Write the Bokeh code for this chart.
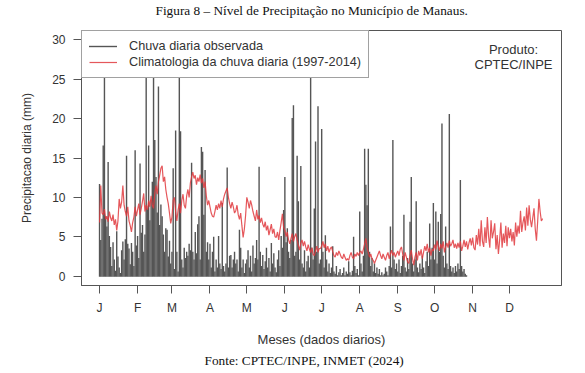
from bokeh.plotting import figure
from bokeh.models import (Range1d, Legend, LegendItem, Label, Title,
                          FixedTicker, ColumnDataSource)
from bokeh.embed import file_html
from bokeh.resources import INLINE

# ---------------- data ----------------
month_labels = ["J", "F", "M", "A", "M", "J", "J", "A", "S", "O", "N", "D"]
month_lengths = [31, 28, 31, 30, 31, 30, 31, 31, 30, 31, 30, 31]
y_ticks = [0, 5, 10, 15, 20, 25, 30]

# observed daily rainfall (mm), Jan 1 .. Oct 27
obs_jan = [11.6, 4.5, 7.2, 16.5, 28.0, 7.5, 6.2, 14.4, 5.0, 3.6, 1.2, 4.2, 2.0, 0.6, 5.6, 2.4,
           1.0, 0.3, 3.2, 4.3, 2.0, 4.6, 15.2, 4.0, 3.4, 1.4, 4.1, 3.0, 1.2, 15.9, 3.8]
obs_feb = [5.0, 2.2, 14.2, 5.4, 6.4, 3.0, 5.2, 28.0, 8.5, 16.5, 7.0, 9.6, 11.9, 29.0, 17.2,
           12.5, 8.0, 24.0, 6.4, 9.0, 7.5, 5.2, 3.0, 6.0, 5.8, 2.4, 4.4, 1.5]
obs_mar = [3.0, 13.6, 0.8, 18.4, 3.0, 0.5, 26.0, 18.3, 2.0, 1.0, 3.5, 2.2, 3.0, 2.5, 4.0, 3.2,
           14.3, 3.0, 2.0, 5.5, 2.8, 6.5, 7.5, 2.0, 16.3, 15.7, 7.7, 13.4, 3.0, 4.2, 2.0]
obs_apr = [4.0, 1.0, 3.0, 4.9, 0.5, 2.0, 1.0, 5.0, 1.5, 0.8, 9.2, 1.2, 0.5, 1.5, 13.7, 1.0,
           2.5, 2.6, 1.0, 2.0, 3.0, 1.5, 2.0, 0.5, 5.8, 3.5, 1.0, 2.0, 0.3, 1.5]
obs_may = [2.0, 3.2, 1.0, 2.5, 0.5, 3.8, 1.5, 2.2, 4.5, 2.0, 13.8, 3.0, 1.2, 2.6, 0.8, 1.8,
           3.5, 1.0, 2.2, 0.5, 4.1, 1.5, 2.8, 1.0, 0.4, 2.0, 3.2, 1.2, 5.0, 3.5, 8.3]
obs_jun = [12.5, 4.2, 6.0, 3.0, 2.2, 4.5, 20.0, 21.6, 2.5, 3.0, 15.2, 9.4, 2.0, 13.9, 1.5,
           1.0, 3.2, 0.5, 1.8, 2.5, 1.0, 27.0, 3.5, 2.0, 8.5, 17.0, 3.0, 21.5, 1.5, 2.0]
obs_jul = [18.6, 3.0, 1.0, 5.1, 2.0, 0.5, 1.5, 0.3, 1.0, 3.7, 0.5, 0.2, 1.2, 0.0, 0.4, 0.8,
           0.0, 0.3, 1.0, 0.0, 0.5, 0.2, 1.8, 0.4, 0.0, 0.6, 4.9, 1.2, 0.3, 0.8, 0.0]
obs_aug = [8.1, 1.5, 0.5, 2.5, 16.1, 11.5, 8.9, 16.1, 3.0, 1.2, 2.2, 0.5, 1.5, 0.3, 1.0, 0.2,
           0.8, 0.0, 0.4, 0.0, 0.2, 1.0, 0.5, 0.0, 1.2, 6.2, 1.0, 17.2, 2.0, 0.8, 1.5]
obs_sep = [0.5, 2.0, 0.3, 1.2, 2.5, 7.7, 1.0, 0.5, 2.2, 0.8, 6.8, 12.5, 1.5, 0.5, 2.0, 9.4,
           1.0, 0.4, 1.5, 0.8, 2.5, 1.0, 0.3, 1.8, 3.0, 1.2, 6.6, 2.0, 3.5, 9.2]
obs_oct = [2.0, 8.1, 1.5, 6.8, 3.0, 7.8, 19.3, 2.5, 1.0, 6.2, 1.5, 0.8, 20.5, 1.2, 0.5, 1.0,
           0.3, 1.2, 0.5, 1.5, 0.8, 12.1, 1.2, 0.5, 0.8, 0.2, 0.0]

# climatology of daily rainfall 1997-2014 (mm)
clim_jan = [6.8, 11.5, 8.0, 7.8, 8.5, 7.2, 7.6, 6.9, 8.2, 7.4, 7.0, 7.8, 6.5, 7.2, 5.8, 7.0,
            9.8, 8.6, 9.4, 11.5, 9.0, 8.2, 7.6, 8.8, 7.0, 6.4, 5.6, 6.8, 7.5, 8.8, 7.6]
clim_feb = [8.4, 9.2, 7.8, 8.6, 9.5, 10.5, 8.2, 9.0, 8.4, 9.6, 8.8, 10.2, 9.0, 8.6, 10.5,
            11.5, 10.4, 12.0, 12.8, 13.7, 14.0, 12.0, 12.6, 11.0, 10.0, 9.2, 8.0, 6.7]
clim_mar = [7.5, 9.6, 10.0, 8.2, 7.0, 8.4, 9.2, 8.0, 9.6, 10.4, 9.0, 8.6, 10.2, 11.0, 10.0,
            11.8, 12.6, 13.2, 12.4, 12.8, 11.6, 12.5, 12.0, 12.9, 11.8, 12.4, 11.2, 12.0,
            10.2, 9.0, 9.6]
clim_apr = [8.8, 8.0, 7.6, 7.5, 8.2, 9.0, 8.4, 9.2, 8.6, 9.6, 8.8, 9.8, 10.4, 10.8, 11.2,
            10.0, 9.2, 8.6, 9.4, 8.8, 8.0, 8.3, 9.0, 7.8, 7.2, 8.0, 6.4, 4.9, 6.0, 7.7]
clim_may = [10.0, 9.4, 8.6, 9.6, 9.0, 8.2, 7.6, 7.0, 8.4, 7.2, 7.7, 6.8, 7.4, 6.6, 6.2, 6.9,
            5.8, 6.4, 5.2, 5.9, 6.6, 5.4, 6.0, 5.0, 4.9, 5.6, 4.6, 5.8, 6.8, 7.9, 6.2]
clim_jun = [5.8, 5.0, 5.6, 4.6, 4.1, 4.8, 5.4, 4.4, 5.0, 5.4, 4.6, 3.9, 3.3, 4.2, 4.6, 3.8,
            4.4, 3.7, 3.2, 4.0, 3.4, 3.0, 3.6, 2.8, 2.6, 3.2, 3.8, 3.0, 3.5, 3.5]
clim_jul = [3.8, 4.4, 3.6, 4.1, 3.2, 3.8, 3.0, 3.5, 3.7, 3.1, 2.6, 2.4, 3.0, 2.6, 3.2, 2.8,
            2.4, 2.2, 2.8, 2.4, 2.0, 2.2, 2.0, 2.6, 3.0, 2.4, 2.2, 2.8, 2.5, 3.0, 2.6]
clim_aug = [3.0, 3.2, 2.8, 3.4, 4.1, 4.8, 3.6, 3.0, 2.4, 2.8, 2.2, 2.0, 1.6, 2.0, 2.4, 2.8,
            3.2, 2.6, 2.2, 2.8, 2.4, 2.0, 2.6, 3.0, 2.2, 2.8, 3.3, 2.6, 3.0, 2.4, 2.8]
clim_sep = [3.2, 2.6, 3.4, 3.7, 2.8, 2.0, 3.0, 2.4, 1.8, 1.6, 2.6, 3.3, 2.2, 1.4, 2.4, 3.0,
            2.0, 3.2, 2.6, 3.4, 2.2, 3.0, 3.8, 3.2, 4.1, 3.0, 3.6, 2.6, 3.4, 3.2]
clim_oct = [4.0, 3.4, 4.5, 3.8, 3.2, 4.1, 3.5, 4.4, 3.0, 3.7, 4.2, 3.6, 4.5, 3.8, 4.1, 4.6,
            3.6, 4.1, 3.5, 4.2, 3.6, 4.4, 3.2, 3.8, 4.6, 3.7, 4.4, 3.4, 4.2, 4.8, 3.9]
clim_nov = [4.9, 3.6, 3.3, 5.2, 4.0, 6.0, 3.8, 7.1, 4.4, 3.7, 6.2, 4.2, 7.5, 5.0, 3.6, 7.1,
            4.8, 5.6, 6.7, 3.4, 5.2, 2.8, 4.6, 6.8, 3.6, 5.4, 4.2, 6.4, 3.8, 6.2]
clim_dec = [4.8, 6.0, 4.4, 5.6, 3.9, 6.8, 5.0, 6.4, 5.4, 8.3, 5.6, 6.8, 7.6, 5.8, 8.7, 6.4,
            9.0, 7.2, 6.2, 7.4, 8.6, 6.0, 4.5, 7.0, 9.8, 8.2, 7.0, 7.3]

# ---------------- assemble ----------------
obs = (obs_jan + obs_feb + obs_mar + obs_apr + obs_may + obs_jun + obs_jul + obs_aug
       + obs_sep + obs_oct)
clim = (clim_jan + clim_feb + clim_mar + clim_apr + clim_may + clim_jun + clim_jul
        + clim_aug + clim_sep + clim_oct + clim_nov + clim_dec)
obs_days = list(range(len(obs)))
clim_days = list(range(len(clim)))
month_starts = [sum(month_lengths[:i]) for i in range(12)]

SANS = "Liberation Sans"
SERIF = "Liberation Serif"
AX = "#555555"
TXT = "#333333"

p = figure(width=585, height=373, output_backend="svg", toolbar_location=None,
           x_range=Range1d(-14.7, 376.4), y_range=Range1d(-1.2, 31.2),
           min_border_left=81, min_border_right=24, min_border_top=29,
           min_border_bottom=88)
p.xgrid.visible = False
p.ygrid.visible = False
p.outline_line_color = AX
p.outline_line_width = 1
p.background_fill_color = "white"
p.border_fill_color = "white"

src = ColumnDataSource(dict(d=obs_days, v=obs))
r_obs = p.segment(x0="d", y0=0, x1="d", y1="v", source=src,
                  line_color="#555555", line_width=1.4, line_cap="square")
r_clim = p.line(clim_days, clim, line_color="#e0393e", line_width=1.2, line_alpha=0.85)

# axes
p.xaxis.ticker = FixedTicker(ticks=month_starts)
p.xaxis.major_label_overrides = {m: lab for m, lab in zip(month_starts, month_labels)}
p.yaxis.ticker = FixedTicker(ticks=y_ticks)
for ax in (p.xaxis[0], p.yaxis[0]):
    ax.axis_line_color = AX
    ax.major_tick_line_color = AX
    ax.minor_tick_line_color = None
    ax.major_tick_out = 8
    ax.major_tick_in = 0
    ax.major_label_text_font = SANS
    ax.major_label_text_font_size = "12px"
    ax.major_label_text_color = TXT
    ax.axis_label_text_font = SANS
    ax.axis_label_text_font_style = "normal"
    ax.axis_label_text_color = TXT
p.xaxis.major_label_standoff = 7
p.yaxis.major_label_standoff = 8
p.xaxis.axis_label = "Meses (dados diarios)"
p.xaxis.axis_label_text_font_size = "13px"
p.xaxis.axis_label_standoff = 14
p.yaxis.axis_label = "Precipitacao diaria (mm)"
p.yaxis.axis_label_text_font_size = "12px"
p.yaxis.axis_label_standoff = 15

# title: a thin spacer panel between the frame and the caption lifts the caption
spacer = Title(text=" ", text_font_size="1px", standoff=10)
p.add_layout(spacer, "above")
caption = Title(text="Figura 8 \u2013 N\u00edvel de Precipita\u00e7\u00e3o no Munic\u00edpio de Manaus.",
                align="left", offset=74, vertical_align="bottom", standoff=0,
                text_font=SERIF, text_font_size="13.3px", text_font_style="normal",
                text_line_height=0.7, text_color="#111111")
p.add_layout(caption, "above")

footer = Title(text="Fonte: CPTEC/INPE, INMET (2024)", align="left", offset=123,
               text_font=SERIF, text_font_size="13.3px", text_font_style="normal",
               text_color="#111111", standoff=2)
p.add_layout(footer, "below")

# legend
legend = Legend(items=[LegendItem(label="Chuva diaria observada", renderers=[r_obs]),
                       LegendItem(label="Climatologia da chuva diaria (1997-2014)",
                                  renderers=[r_clim])],
                location="top_left", margin=0, padding=7, spacing=0,
                label_height=16, glyph_height=16, glyph_width=28, label_standoff=12,
                border_line_color="#444444", border_line_width=1,
                background_fill_color="white", background_fill_alpha=1.0,
                label_text_font=SANS, label_text_font_size="12.7px",
                label_text_color=TXT)
p.add_layout(legend)

# product note
note_x = 337.3
p.add_layout(Label(x=note_x, y=28.8, text="Produto:", text_align="center",
                   text_baseline="middle", text_font=SANS, text_font_size="13px",
                   text_color=TXT))
p.add_layout(Label(x=note_x, y=26.9, text="CPTEC/INPE", text_align="center",
                   text_baseline="middle", text_font=SANS, text_font_size="13px",
                   text_color=TXT))

open("out.html", "w").write(file_html(p, INLINE))
